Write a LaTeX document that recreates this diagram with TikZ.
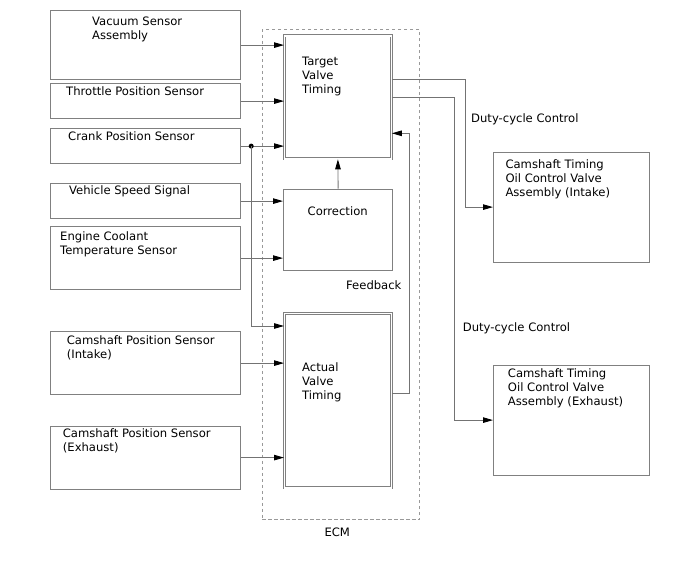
\documentclass[tikz,border=0pt]{standalone}
\usepackage{fontspec}
\setmainfont{DejaVu Sans}
\usetikzlibrary{arrows.meta}

\begin{document}
\begin{tikzpicture}[x=1pt, y=-1pt,
  box/.style={draw=black!50, line width=1.2pt, inner sep=0, anchor=north west},
  ecu/.style={box, double=white, double distance=1.4pt, line width=0.8pt},
  txt/.style={anchor=base west, align=left, inner sep=0, font=\fontsize{11.6}{14}\selectfont},
  wire/.style={draw=black!55, line width=0.9pt},
  arr/.style={wire, -{Triangle[length=10pt, width=5.5pt, color=black]}}]
\useasboundingbox (0,0) rectangle (688,560);
\node[box, minimum width=190, minimum height=69] (vac) at (50,10) {};
\node[box, minimum width=190, minimum height=35] (tps) at (50,83) {};
\node[box, minimum width=190, minimum height=35] (ckp) at (50,128) {};
\node[box, minimum width=190, minimum height=35] (spd) at (50,183) {};
\node[box, minimum width=190, minimum height=63] (ect) at (50,226) {};
\node[box, minimum width=190, minimum height=63] (cmpi) at (50,331) {};
\node[box, minimum width=190, minimum height=63] (cmpe) at (50,425.5) {};
\node[box, draw=black!40, line width=0.9pt, dash pattern=on 3.5pt off 2.5pt,
  minimum width=157.6, minimum height=489.7] (ecm) at (261.7,29.3) {};
\node[ecu, minimum width=107, minimum height=123] (tvt) at (284,35.5) {};
\node[box, minimum width=109, minimum height=81.5] (corr) at (283,188.5) {};
\node[ecu, minimum width=107, minimum height=174.5] (avt) at (284,313) {};
\node[box, minimum width=155.5, minimum height=110] (ocvi) at (493,151.5) {};
\node[box, minimum width=155.5, minimum height=110] (ocve) at (493,364.5) {};

\node[txt] (vac-t) at (92,39) {Vacuum Sensor\\Assembly};
\node[txt] (tps-t) at (66,95) {Throttle Position Sensor};
\node[txt] (ckp-t) at (68,140) {Crank Position Sensor};
\node[txt] (spd-t) at (69,194.3) {Vehicle Speed Signal};
\node[txt] (ect-t) at (60,254) {Engine Coolant\\Temperature Sensor};
\node[txt] (cmpi-t) at (66.7,358.3) {Camshaft Position Sensor\\(Intake)};
\node[txt] (cmpe-t) at (62.7,451.3) {Camshaft Position Sensor\\(Exhaust)};
\node[txt] (tvt-t) at (302,93) {Target\\Valve\\Timing};
\node[txt] (corr-t) at (307.5,215.7) {Correction};
\node[txt] (fb-t) at (346,289) {Feedback};
\node[txt] (avt-t) at (302,399.7) {Actual\\Valve\\Timing};
\node[txt] (ecm-t) at (324.3,536) {ECM};
\node[txt] (duty1) at (471,122.7) {Duty-cycle Control};
\node[txt] (duty2) at (462.7,331.7) {Duty-cycle Control};
\node[txt] (ocvi-t) at (505.3,196.3) {Camshaft Timing\\Oil Control Valve\\Assembly (Intake)};
\node[txt] (ocve-t) at (507.7,405) {Camshaft Timing\\Oil Control Valve\\Assembly (Exhaust)};

\draw[arr] (vac.east) -- (vac.east -| tvt.west);
\draw[arr] (tps.east) -- (tps.east -| tvt.west);
\draw[arr] (ckp.east) -- (ckp.east -| tvt.west);
\draw[arr] (spd.east) -- (spd.east -| corr.west);
\draw[arr] (ect.east) -- (ect.east -| corr.west);
\draw[arr] (cmpi.east) -- (cmpi.east -| avt.west);
\draw[arr] (cmpe.east) -- (cmpe.east -| avt.west);
\path (ckp.east) ++(10,0) coordinate (split);
\fill (split) circle (2.5);
\draw[arr] (split) |- ([yshift=-13pt]avt.north west);
\draw[arr] (corr.north) -- (tvt.south);
\draw[arr] ([yshift=-80pt]avt.north east) -- ++(18,0) |- ([yshift=-97.8pt]tvt.north east);
\draw[arr] ([yshift=-43.5pt]tvt.north east) -- ++(73.3,0) |- (ocvi.west);
\draw[arr] ([yshift=-61.8pt]tvt.north east) -- ++(63,0) |- (ocve.west);
\end{tikzpicture}
\end{document}
